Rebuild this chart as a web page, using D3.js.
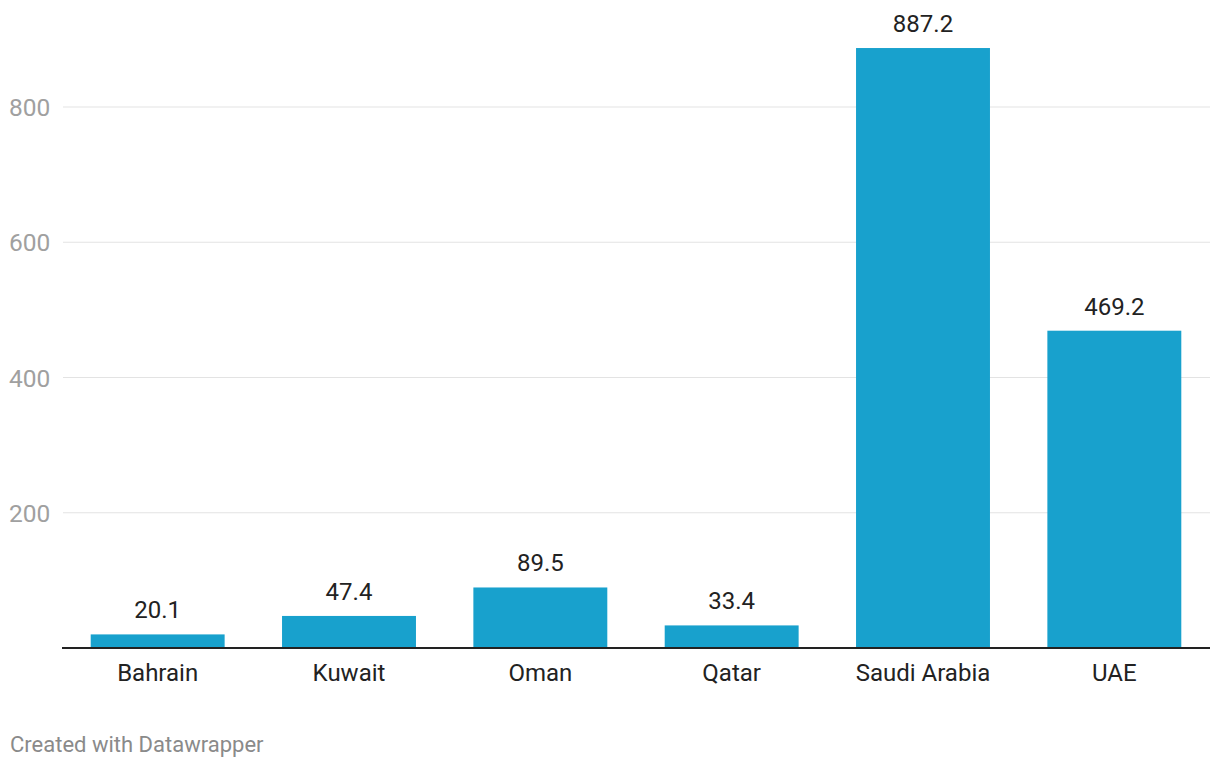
<!DOCTYPE html>
<html><head><meta charset="utf-8">
<script src="https://cdn.jsdelivr.net/npm/d3@7"></script>
<style>body{margin:0;background:#fff;font-family:Roboto,sans-serif;}</style>
</head><body>
<svg id="c" width="1220" height="768"></svg>
<script>
const categories = ["Bahrain","Kuwait","Oman","Qatar","Saudi Arabia","UAE"];
const values = [20.1, 47.4, 89.5, 33.4, 887.2, 469.2];
const yTicks = [200, 400, 600, 800];
const footer = "Created with Datawrapper";

const svg = d3.select("#c");
const x = d3.scaleBand().domain(categories).range([62, 1210]).paddingInner(0.3).paddingOuter(0.15);
const y = d3.scaleLinear().domain([0, 800]).range([648, 107]);

const grid = svg.append("g");
grid.selectAll("line").data(yTicks).join("line")
  .attr("x1", 63).attr("x2", 1210)
  .attr("y1", d => y(d)).attr("y2", d => y(d))
  .attr("stroke", "#e3e3e3").attr("stroke-width", 1);
grid.selectAll("text").data(yTicks).join("text")
  .attr("x", 9).attr("y", d => y(d) + 9)
  .attr("fill", "#a0a0a0").attr("font-size", 24.5)
  .text(d => d);

svg.append("g").selectAll("rect").data(values).join("rect")
  .attr("x", (d, i) => x(categories[i]))
  .attr("width", x.bandwidth())
  .attr("y", d => y(d))
  .attr("height", d => y(0) - y(d))
  .attr("fill", "#18a1cd");

svg.append("line").attr("x1", 62).attr("x2", 1210)
  .attr("y1", y(0)).attr("y2", y(0)).attr("stroke", "#222").attr("stroke-width", 2);

svg.append("g").selectAll("text").data(values).join("text")
  .attr("x", (d, i) => x(categories[i]) + x.bandwidth() / 2)
  .attr("y", d => y(d) - 16)
  .attr("text-anchor", "middle").attr("fill", "#222").attr("font-size", 24)
  .text(d => d.toFixed(1));

svg.append("g").selectAll("text").data(categories).join("text")
  .attr("x", d => x(d) + x.bandwidth() / 2)
  .attr("y", 681)
  .attr("text-anchor", "middle").attr("fill", "#222").attr("font-size", 24)
  .text(d => d);

svg.append("text").attr("x", 10).attr("y", 752)
  .attr("fill", "#8a8a8a").attr("font-size", 22).text(footer);
</script>
</body></html>
